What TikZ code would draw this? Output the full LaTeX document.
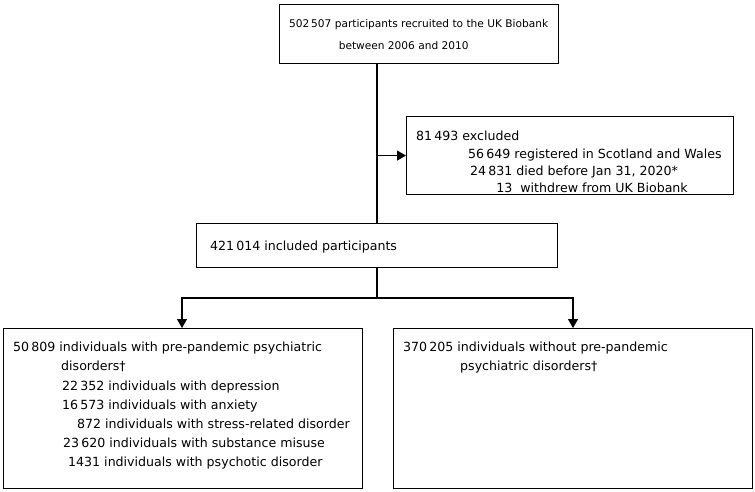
\documentclass[tikz,border=0pt]{standalone}
\usepackage{fontspec}
\setmainfont{DejaVu Sans}
\usetikzlibrary{arrows.meta}
\begin{document}
\begin{tikzpicture}[x=1pt,y=-1pt,
  box/.style={draw, line width=1.1pt, inner sep=0pt, anchor=north west},
  txt/.style={anchor=north west, inner sep=0pt, align=left, font=\fontsize{12.6}{19.2}\selectfont},
  exctxtstyle/.style={anchor=north west, inner sep=0pt, align=left, font=\fontsize{12.6}{17.4}\selectfont},
  toptxtstyle/.style={anchor=north west, inner sep=0pt, align=left, font=\fontsize{10.6}{22}\selectfont},
  link/.style={line width=1.1pt},
  arr/.style={line width=1.1pt, -{Triangle[length=9pt,width=10pt]}}]
\useasboundingbox (0,0) rectangle (755,491);
% boxes
\node[box, minimum width=279pt, minimum height=59pt] (top) at (279,4) {};
\node[box, minimum width=327pt, minimum height=78pt] (exc) at (406,116) {};
\node[box, minimum width=361pt, minimum height=44pt] (inc) at (196,223) {};
\node[box, minimum width=359pt, minimum height=160pt] (left) at (3,328) {};
\node[box, minimum width=359pt, minimum height=160pt] (right) at (393,328) {};
% texts
\node[toptxtstyle] (toptxt) at (289,19) {502\,507 participants recruited to the UK Biobank\\
  \hphantom{502\,507 }\hspace*{4pt}between 2006 and 2010};
\node[exctxtstyle] (exctxt) at (416,131) {81\,493 excluded\\
  \hspace*{52pt}56\,649 registered in Scotland and Wales\\
  \hspace*{54pt}24\,831 died before Jan 31, 2020*\\
  \hspace*{54pt}\hphantom{24\,8}13\ \ withdrew from UK Biobank};
\node[txt] (inctxt) at (210,241) {421\,014 included participants};
\node[txt] (lefttxt) at (13,342) {50\,809 individuals with pre-pandemic psychiatric\\
  \hspace*{48pt}disorders\textdagger\\
  \hspace*{49pt}22\,352 individuals with depression\\
  \hspace*{49pt}16\,573 individuals with anxiety\\
  \hspace*{64pt}872 individuals with stress-related disorder\\
  \hspace*{50pt}23\,620 individuals with substance misuse\\
  \hspace*{55pt}1431 individuals with psychotic disorder};
\node[txt] (righttxt) at (403,342) {370\,205 individuals without pre-pandemic\\
  \hspace*{57pt}psychiatric disorders\textdagger};
% connectors
\coordinate (fork) at (377,298);
\coordinate (split) at (fork |- exc.west);
\draw[link] (top.south -| fork) -- (inc.north -| fork);
\draw[arr] (split) -- (exc.west);
\draw[link] (inc.south -| fork) -- (fork);
\draw[arr] (fork) -| (182,328) coordinate (la);
\draw[arr] (fork) -| (573,328) coordinate (ra);
\end{tikzpicture}
\end{document}
